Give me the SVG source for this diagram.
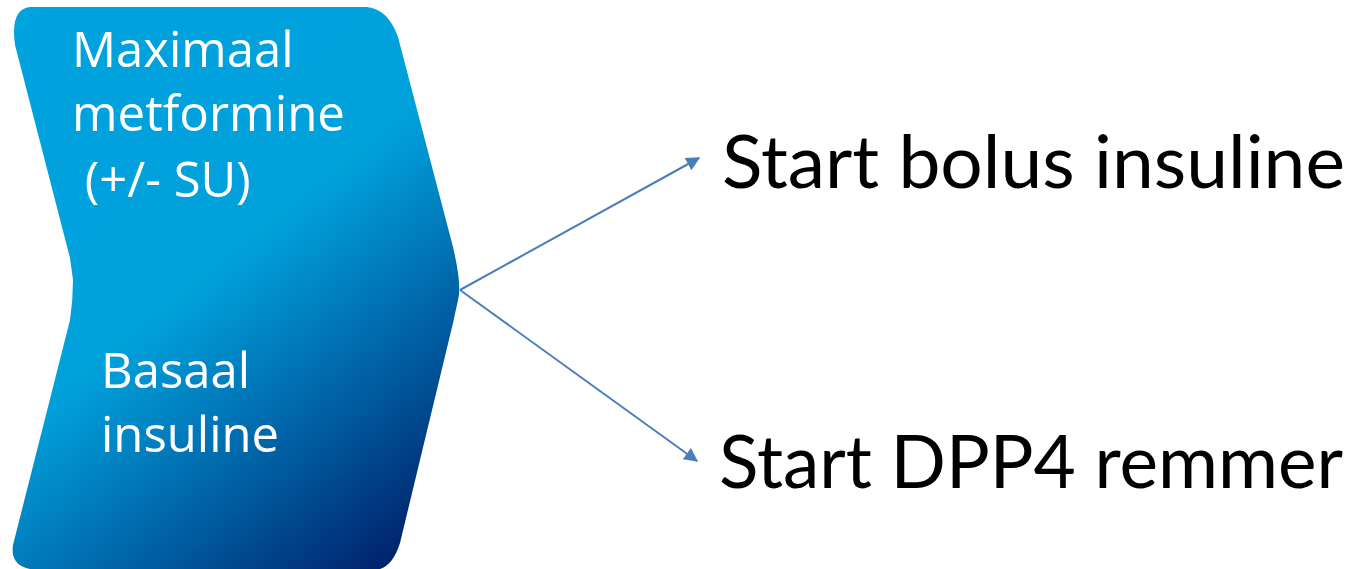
<svg xmlns="http://www.w3.org/2000/svg" width="1354" height="569" viewBox="0 0 1354 569">
<style>
.w{font-family:"Open Sans","Noto Sans",sans-serif;fill:#ffffff;font-size:49px}
.b{font-family:Lato,"Open Sans",sans-serif;fill:#000000;font-size:73px}
.c{stroke:#4a7ebb;stroke-width:2;fill:none}
</style>
<defs>
<linearGradient id="g" x1="0" y1="0" x2="460" y2="569" gradientUnits="userSpaceOnUse">
<stop offset="0" stop-color="#00a3de"/>
<stop offset="0.48" stop-color="#00a0db"/>
<stop offset="0.75" stop-color="#00579c"/>
<stop offset="1" stop-color="#00105a"/>
</linearGradient>
<marker id="a" viewBox="0 0 10 10" refX="9" refY="5" markerWidth="7" markerHeight="7" orient="auto" markerUnits="strokeWidth">
<path d="M0,0 L10,5 L0,10 z" fill="#4a7ebb"/>
</marker>
</defs>
<g id="chevron">
<path d="M30,7 L367,7 Q388,9 398,37 L453,247 Q462,285 458,300 L453,323 L400,543 Q393,565 380,569 L30,569 Q10,565 13,545 L70,320 Q73,300 73,280 L70,258 L15,45 Q10,9 30,7 Z" fill="url(#g)"/>
<text class="w" x="72" y="67">Maximaal</text>
<text class="w" x="72" y="131" textLength="273" lengthAdjust="spacingAndGlyphs">metformine</text>
<text class="w" x="72" y="197" xml:space="preserve"> (+/- SU)</text>
<text class="w" x="101" y="388">Basaal</text>
<text class="w" x="101" y="452">insuline</text>
</g>
<g id="connectors">
<line class="c" x1="460" y1="290" x2="699" y2="158" marker-end="url(#a)"/>
<line class="c" x1="460" y1="290" x2="697" y2="461" marker-end="url(#a)"/>
</g>
<g id="target1">
<text class="b" x="722" y="188" textLength="623" lengthAdjust="spacingAndGlyphs">Start bolus insuline</text>
</g>
<g id="target2">
<text class="b" x="719" y="488" textLength="624" lengthAdjust="spacingAndGlyphs">Start DPP4 remmer</text>
</g>
</svg>
